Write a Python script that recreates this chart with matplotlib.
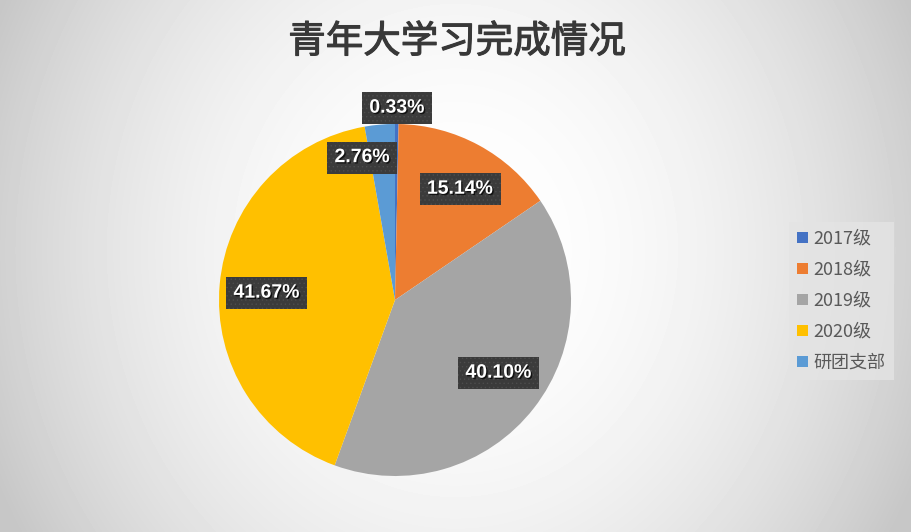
import numpy as np
import matplotlib
matplotlib.use("Agg")
import matplotlib.pyplot as plt
import matplotlib.patheffects as pe

plt.rcParams["font.family"] = ["Noto Sans CJK SC", "DejaVu Sans"]
plt.rcParams["hatch.linewidth"] = 0.5

# data
categories = ["2017级", "2018级", "2019级", "2020级", "研团支部"]
shares = [0.33, 15.14, 40.10, 41.67, 2.76]
colors = ["#4472C4", "#ED7D31", "#A5A5A5", "#FFC000", "#5B9BD5"]
title = "青年大学习完成情况"

# label layout (radius factor, angle nudge in degrees)
label_r = [1.09, 0.73, 0.72, 0.73, 0.83]
label_nudge = [0.0, -2.0, 2.6, 2.0, 8.0]

W, H = 911, 532
fig = plt.figure(figsize=(W / 100, H / 100), dpi=100)

# radial grey background
bg = fig.add_axes([0, 0, 1, 1])
yy, xx = np.mgrid[0:H, 0:W]
dx = (xx - 455) / (W / 2)
dy = (yy - 250) / (H / 2)
val = 1.0 - 0.20 * (0.9 * dx**2 + 0.25 * dy**2)
val = np.clip(val, 0.78, 1.0)
bg.imshow(val, cmap="gray", vmin=0, vmax=1, aspect="auto", interpolation="bilinear")
bg.axis("off")

cx, cy, r = 395, 300, 176
ax = fig.add_axes([(cx - r) / W, 1 - (cy + r) / H, 2 * r / W, 2 * r / H])
wedges, _ = ax.pie(shares, colors=colors, startangle=90, counterclock=False,
                   radius=1.0, wedgeprops=dict(linewidth=0))
ax.set_xlim(-1, 1)
ax.set_ylim(-1, 1)
ax.set_aspect("equal")
ax.axis("off")

total = sum(shares)
cum = 0.0
for i, s in enumerate(shares):
    mid = 90 - (cum + s / 2) / total * 360 + label_nudge[i]
    cum += s
    rr = label_r[i]
    x = rr * np.cos(np.radians(mid))
    y = rr * np.sin(np.radians(mid))
    t = ax.text(x, y, f"{s:.2f}%", ha="center", va="center", color="white",
                fontsize=14, fontweight="bold", family="Liberation Sans",
                bbox=dict(boxstyle="square,pad=0.38", facecolor="#3b3b3b",
                          edgecolor="#4d4d4d", hatch="....", linewidth=0),
                zorder=5)
    t.set_path_effects([pe.withSimplePatchShadow(offset=(1, -1), shadow_rgbFace="black", alpha=0.7)])

fig.text(457 / W, 1 - 42 / H, title, ha="center", va="center",
         fontsize=27, color="#383838",
         path_effects=[pe.withStroke(linewidth=0.8, foreground="#383838")])

leg = fig.legend(wedges, categories, loc="center left",
                 bbox_to_anchor=(789 / W, 1 - 301 / H), frameon=True,
                 fancybox=False, fontsize=13, handlelength=0.6, handleheight=0.6,
                 handletextpad=0.3, labelspacing=0.72, borderpad=0.45,
                 borderaxespad=0)
leg.get_frame().set_facecolor("#e4e4e4")
leg.get_frame().set_edgecolor("none")
for txt in leg.get_texts():
    txt.set_color("#595959")

fig.savefig("out.png", dpi=100)
